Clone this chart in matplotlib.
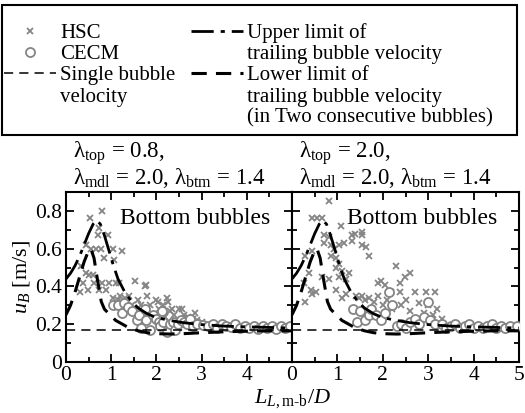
import matplotlib

matplotlib.use("Agg")
import matplotlib.pyplot as plt  # noqa: E402
from matplotlib.lines import Line2D  # noqa: E402
from matplotlib.patches import Rectangle  # noqa: E402
from matplotlib.ticker import MultipleLocator  # noqa: E402

# ---- data ----
upper_x = [0, 0.1, 0.2, 0.3, 0.4, 0.5, 0.6, 0.68, 0.76, 0.85, 0.95, 1.05, 1.15,
           1.3, 1.45, 1.6, 1.8, 2.0, 2.3, 2.6, 3.0, 3.5, 4.0, 4.5, 5.0]
upper_y = [0.44, 0.47, 0.51, 0.56, 0.62, 0.68, 0.73, 0.75, 0.73, 0.67, 0.59, 0.51, 0.44,
           0.37, 0.32, 0.285, 0.255, 0.235, 0.22, 0.208, 0.198, 0.19, 0.186, 0.183, 0.18]

lower_x = [0, 0.1, 0.2, 0.3, 0.4, 0.5, 0.55, 0.62, 0.7, 0.78, 0.85, 0.95, 1.1, 1.25,
           1.4, 1.6, 1.8, 2.0, 2.3, 2.6, 3.0, 3.5, 4.0, 4.5, 5.0]
lower_y = [0.25, 0.3, 0.37, 0.45, 0.53, 0.59, 0.6, 0.55, 0.43, 0.32, 0.28, 0.255, 0.22, 0.2,
           0.18, 0.165, 0.155, 0.15, 0.148, 0.15, 0.155, 0.16, 0.163, 0.165, 0.165]

single_u = 0.17

hsc_left_x = [0.30, 0.33, 0.38, 0.44, 0.50, 0.53, 0.55, 0.62, 0.66, 0.70, 0.72, 0.74, 0.77,
              0.80, 0.80, 0.85, 0.88, 0.92, 0.95, 1.03, 1.07, 1.10, 1.18, 1.23, 0.44, 0.59,
              0.48, 1.05, 1.15, 1.20, 1.25, 1.30, 1.35, 1.40, 1.45, 1.53, 1.60, 1.65, 1.75,
              1.80, 1.85, 2.00, 2.05, 2.15, 2.23, 2.30, 2.40, 2.50, 2.60, 2.70, 2.80, 2.90,
              3.00, 1.10, 1.20, 1.30, 1.50, 1.70, 1.90, 2.20, 1.78, 2.04, 2.26, 2.34, 2.56, 2.85]
hsc_left_y = [0.37, 0.51, 0.42, 0.47, 0.46, 0.76, 0.60, 0.42, 0.60, 0.67, 0.38, 0.71, 0.60,
              0.80, 0.42, 0.55, 0.38, 0.67, 0.42, 0.60, 0.54, 0.42, 0.42, 0.59, 0.62, 0.46,
              0.38, 0.34, 0.33, 0.35, 0.32, 0.34, 0.32, 0.35, 0.30, 0.43, 0.33, 0.30, 0.40,
              0.35, 0.30, 0.33, 0.28, 0.30, 0.34, 0.27, 0.25, 0.28, 0.25, 0.24, 0.23, 0.22,
              0.21, 0.30, 0.29, 0.29, 0.27, 0.26, 0.25, 0.24, 0.41, 0.32, 0.32, 0.28, 0.28, 0.26]

cecm_left_x = [1.05, 1.15, 1.23, 1.28, 1.38, 1.45, 1.56, 1.62, 1.67, 1.75, 1.78, 1.86, 1.93,
               2.00, 2.05, 2.08, 2.12, 2.15, 2.23, 2.30, 2.37, 2.41, 2.48, 2.55, 2.60, 2.67,
               2.75, 2.82, 2.90, 3.04, 3.15, 3.25, 3.35, 3.45, 3.55, 3.65, 3.75, 3.85, 3.95,
               4.05, 4.15, 4.25, 4.35, 4.45, 4.55, 4.65, 4.75, 4.85, 4.95]
cecm_left_y = [0.30, 0.30, 0.26, 0.31, 0.29, 0.27, 0.22, 0.25, 0.18, 0.28, 0.22, 0.17, 0.25,
               0.23, 0.21, 0.19, 0.27, 0.21, 0.16, 0.20, 0.21, 0.17, 0.20, 0.22, 0.21, 0.20,
               0.23, 0.19, 0.20, 0.197, 0.19, 0.20, 0.18, 0.20, 0.19, 0.185, 0.20, 0.18, 0.19,
               0.18, 0.19, 0.175, 0.19, 0.18, 0.19, 0.175, 0.19, 0.18, 0.19]

hsc_right_x = [0.44, 0.55, 0.66, 0.81, 1.07, 1.33, 1.55, 1.33, 0.70, 0.81, 0.70, 0.85, 0.92,
               1.03, 1.14, 1.70, 0.29, 0.44, 0.85, 0.96, 1.03, 0.96, 1.10, 1.25, 0.37, 0.26,
               0.66, 0.81, 1.03, 1.18, 0.41, 0.52, 0.44, 0.29, 0.96, 1.18, 1.10, 1.40, 1.47,
               1.55, 1.39, 1.54, 1.54, 1.64, 2.29, 2.60, 2.48, 2.37, 1.90, 1.97, 2.04, 2.70,
               2.96, 3.15, 2.37, 2.19, 2.52, 2.80, 3.00, 3.20, 1.60, 1.70, 1.80, 1.90, 2.00,
               2.10, 2.20, 2.40, 2.60, 2.90, 3.10, 3.30]
hsc_right_y = [0.76, 0.76, 0.76, 0.85, 0.72, 0.67, 0.67, 0.64, 0.67, 0.66, 0.63, 0.62, 0.60,
               0.62, 0.63, 0.56, 0.56, 0.59, 0.56, 0.55, 0.52, 0.50, 0.48, 0.47, 0.47, 0.42,
               0.45, 0.44, 0.45, 0.44, 0.38, 0.37, 0.36, 0.32, 0.38, 0.36, 0.34, 0.35, 0.34,
               0.35, 0.68, 0.69, 0.62, 0.61, 0.51, 0.47, 0.45, 0.42, 0.42, 0.43, 0.41, 0.37,
               0.37, 0.37, 0.37, 0.37, 0.33, 0.31, 0.30, 0.28, 0.33, 0.34, 0.32, 0.35, 0.30,
               0.33, 0.28, 0.30, 0.27, 0.26, 0.25, 0.23]

cecm_right_x = [1.35, 1.43, 1.50, 1.60, 1.69, 1.75, 1.85, 1.95, 2.05, 2.13, 2.20, 2.31, 2.40,
                2.50, 2.60, 2.70, 2.80, 2.90, 3.00, 3.05, 3.15, 3.30, 3.40, 3.50, 3.60, 3.70,
                3.80, 3.90, 4.00, 4.10, 4.20, 4.30, 4.40, 4.50, 4.60, 4.70, 4.80, 4.95]
cecm_right_y = [0.28, 0.21, 0.27, 0.22, 0.25, 0.28, 0.25, 0.22, 0.26, 0.37, 0.30, 0.19, 0.20,
                0.18, 0.21, 0.23, 0.20, 0.24, 0.32, 0.22, 0.20, 0.20, 0.18, 0.19, 0.20, 0.18,
                0.19, 0.20, 0.18, 0.19, 0.18, 0.19, 0.20, 0.18, 0.19, 0.18, 0.19, 0.19]

panel_titles = [
    "λ$_{\\rm top}$ = 0.8,\nλ$_{\\rm mdl}$ = 2.0, λ$_{\\rm btm}$ = 1.4",
    "λ$_{\\rm top}$ = 2.0,\nλ$_{\\rm mdl}$ = 2.0, λ$_{\\rm btm}$ = 1.4",
]

# ---- style ----
plt.rcParams["font.family"] = ["Liberation Serif", "DejaVu Serif"]
plt.rcParams["mathtext.fontset"] = "custom"
plt.rcParams["mathtext.rm"] = "Liberation Serif"
plt.rcParams["mathtext.it"] = "Liberation Serif:italic"
plt.rcParams["font.size"] = 14

GRAY = "#858585"
W, H = 525, 413

fig = plt.figure(figsize=(5.25, 4.13), dpi=100)
ax_l = fig.add_axes([66 / W, 1 - 362 / H, 226 / W, 170 / H])
ax_r = fig.add_axes([292 / W, 1 - 362 / H, 227 / W, 170 / H])

panels = [
    (ax_l, hsc_left_x, hsc_left_y, cecm_left_x, cecm_left_y),
    (ax_r, hsc_right_x, hsc_right_y, cecm_right_x, cecm_right_y),
]

for i, (ax, hx, hy, cx, cy) in enumerate(panels):
    ax.plot(hx, hy, ls="none", marker="x", ms=5, mew=1.3, color=GRAY, zorder=2)
    ax.plot(cx, cy, ls="none", marker="o", ms=6.5, mew=1.3, mec=GRAY, mfc="white", zorder=3)
    ax.axhline(single_u, color="black", lw=1.1, ls=(0, (6, 4)), zorder=4)
    ax.plot(upper_x, upper_y, color="black", lw=2.0, ls=(0, (8, 2.5, 1.5, 2.5)), zorder=5)
    ax.plot(lower_x, lower_y, color="black", lw=2.2, ls=(0, (5, 3)), zorder=5)

    ax.set_xlim(0, 5)
    ax.set_ylim(0, 0.9)
    ax.xaxis.set_major_locator(MultipleLocator(1))
    ax.xaxis.set_minor_locator(MultipleLocator(0.5))
    ax.yaxis.set_major_locator(MultipleLocator(0.2))
    ax.yaxis.set_minor_locator(MultipleLocator(0.1))
    ax.tick_params(which="both", direction="in", top=True, right=True, width=1.3)
    ax.tick_params(which="major", length=6, labelsize=15.5, pad=3)
    ax.tick_params(which="minor", length=3.5)
    for sp in ax.spines.values():
        sp.set_linewidth(1.5)

    ax.text(0.905, 0.845, "Bottom bubbles", transform=ax.transAxes, ha="right",
            va="center", fontsize=17, zorder=6)
    ax.text(0.03, 1.01, panel_titles[i], transform=ax.transAxes, ha="left",
            va="bottom", fontsize=16.5, linespacing=0.95)

ax_l.set_xticks([0, 1, 2, 3, 4])
ax_l.xaxis.set_minor_locator(MultipleLocator(0.5))
ax_l.set_xlim(0, 5)
ax_l.set_yticks([0, 0.2, 0.4, 0.6, 0.8], ["0", "0.2", "0.4", "0.6", "0.8"])
ax_l.set_ylabel("$u_B$ [m/s]", fontsize=16)
ax_l.yaxis.set_label_coords(-0.15, 0.5)
ax_r.tick_params(labelleft=False)

fig.text(292 / W, 1 - 410 / H, "$L_{L,\\mathrm{m}\\text{-}\\mathrm{b}}/D$",
         ha="center", va="bottom", fontsize=16)

# ---- legend (continuation lines as entries with blank handles) ----
blank = Line2D([], [], ls="none")
handles = [
    Line2D([], [], ls="none", marker="x", ms=5, mew=1.3, color=GRAY),
    Line2D([], [], ls="none", marker="o", ms=6.5, mew=1.3, mec=GRAY, mfc="white"),
    Line2D([], [], color="black", lw=1.1, ls=(0, (6, 4))),
    blank, blank,
    Line2D([], [], color="black", lw=2.0, ls=(0, (8, 2.5, 1.5, 2.5))),
    blank,
    Line2D([], [], color="black", lw=2.2, ls=(0, (5, 3))),
    blank, blank,
]
labels = ["HSC", "CECM", "Single bubble", "velocity", " ",
          "Upper limit of", "trailing bubble velocity", "Lower limit of",
          "trailing bubble velocity", "(in Two consecutive bubbles)"]
leg = fig.legend(handles, labels, ncol=2, loc="upper left",
                 bbox_to_anchor=(4 / W, 1 - 23 / H), fontsize=15,
                 frameon=False, handlelength=2.5, handletextpad=0.2,
                 columnspacing=0.75, labelspacing=0.08, borderpad=0.0,
                 borderaxespad=0.0)
fig.patches.append(Rectangle((2 / W, 1 - 135 / H), 515 / W, 130 / H,
                             transform=fig.transFigure, fill=False,
                             edgecolor="black", linewidth=1.5))

plt.savefig("out.png", dpi=100)
